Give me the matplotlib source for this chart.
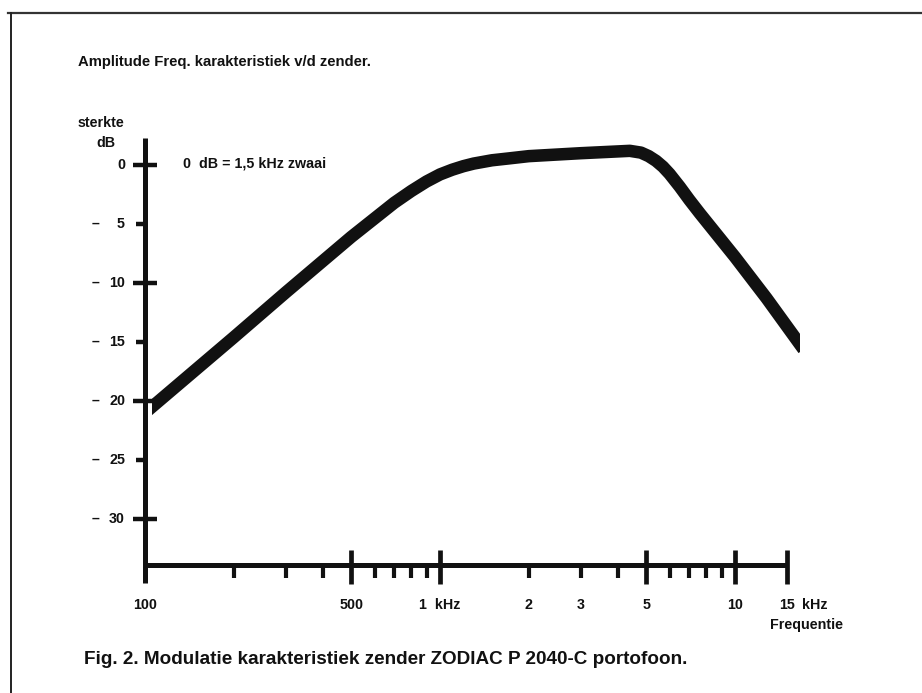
import math
import matplotlib
matplotlib.use("Agg")
import matplotlib.pyplot as plt
from matplotlib.patches import Rectangle

# Curve (frequency in Hz, level in dB)
freq_hz = [105.6, 200, 300, 500, 700, 800, 900, 1000, 1100, 1200, 1300, 1500, 1700, 2000, 3000,
           4000, 4400, 4800, 5100, 5400, 5700, 6000, 6500, 7000, 7600, 10000, 12800, 16600]
level_db = [-20.5, -14.6, -10.8, -6.1, -3.2, -2.2, -1.4, -0.8, -0.4, -0.1, 0.12, 0.4, 0.55, 0.75, 1.0,
            1.15, 1.2, 1.05, 0.75, 0.35, -0.15, -0.75, -1.85, -2.95, -4.1, -7.8, -11.3, -15.2]

# Axis ticks
y_major = [0, -10, -20, -30]
y_minor = [-5, -15, -25]
y_labels = {0: "0", -5: "5", -10: "10", -15: "15", -20: "20", -25: "25", -30: "30"}
x_major = [500, 1000, 5000, 10000, 15000]
x_minor = [200, 300, 400, 600, 700, 800, 900, 2000, 3000, 4000, 6000, 7000, 8000, 9000]
x_labels = {100: "100", 500: "500", 1000: "1  kHz", 2000: "2", 3000: "3",
            5000: "5", 10000: "10", 15000: "15"}

W, H = 922, 693
FONT = ["Liberation Sans", "DejaVu Sans"]
INK = "#111111"

fig = plt.figure(figsize=(W / 100, H / 100), dpi=100)
ax = fig.add_axes([0, 0, 1, 1])
ax.set_xscale("log")
# 295 px per decade, 100 Hz at x=145 ; 11.8 px per dB, 0 dB at y=165
ax.set_xlim(100 * 10 ** (-145 / 295), 100 * 10 ** ((W - 145) / 295))
ax.set_ylim(-(H - 165) / 11.8, 165 / 11.8)
ax.axis("off")


def px(x, y):
    return x / W, 1 - y / H


# page frame (top and left edge of the scan)
fig.add_artist(plt.Line2D([8 / W, 1], [1 - 13 / H] * 2, color="#333333", lw=1.6))
fig.add_artist(plt.Line2D([11 / W] * 2, [0, 1 - 13 / H], color="#222222", lw=1.4))

# axes lines
x_axis_db = -33.9
ax.plot([100, 100], [2.3, -35.4], color=INK, lw=3.6, solid_capstyle="butt")
ax.plot([100, 15000], [x_axis_db, x_axis_db], color=INK, lw=3.6, solid_capstyle="butt")

# y ticks
ax.plot([100] * len(y_major), y_major, ls="none", marker="_", ms=17, mew=3.2, color=INK)
left_tick = [(-1, 0), (0, 0)]
ax.plot([100] * len(y_minor), y_minor, ls="none", marker=left_tick, ms=13, mew=3.2, color=INK)

# x ticks
ax.plot(x_major, [x_axis_db - 0.2] * len(x_major), ls="none", marker="|", ms=24, mew=3.4, color=INK)
down_tick = [(0, 0), (0, -1)]
ax.plot(x_minor, [x_axis_db] * len(x_minor), ls="none", marker=down_tick, ms=18, mew=3.0, color=INK)

# curve
line, = ax.plot(freq_hz, level_db, color=INK, lw=9, solid_capstyle="projecting",
                solid_joinstyle="round")
clip = Rectangle((freq_hz[0], -60), freq_hz[-1] - freq_hz[0], 100, transform=ax.transData)
line.set_clip_path(clip)

# y tick labels
for val, lab in y_labels.items():
    yy = 165 - 11.8 * val
    fig.text(*px(125, yy), lab, ha="right", va="center", fontsize=10.3,
             family=FONT, weight="bold", color=INK)
    if val != 0:
        fig.text(*px(92, yy), "–", ha="left", va="center", fontsize=10.3,
                 family=FONT, weight="bold", color=INK)

# x tick labels
for val, lab in x_labels.items():
    xx = 145 + 295 * math.log10(val / 100)
    fig.text(*px(xx, 605), lab, ha="center", va="center", fontsize=10.3,
             family=FONT, weight="bold", color=INK)
fig.text(*px(802, 605), "kHz", ha="left", va="center", fontsize=10.3,
         family=FONT, weight="bold", color=INK)
fig.text(*px(843, 625), "Frequentie", ha="right", va="center", fontsize=10.3,
         family=FONT, weight="bold", color=INK)

# other text
fig.text(*px(78, 62), "Amplitude Freq. karakteristiek v/d zender.", ha="left", va="center",
         fontsize=10.7, family=FONT, weight="bold", color=INK)
fig.text(*px(78, 123), "sterkte", ha="left", va="center", fontsize=10.3,
         family=FONT, weight="bold", color=INK)
fig.text(*px(96, 143), "dB", ha="left", va="center", fontsize=10.3,
         family=FONT, weight="bold", color=INK)
fig.text(*px(183, 164), "0  dB = 1,5 kHz zwaai", ha="left", va="center", fontsize=10.3,
         family=FONT, weight="bold", color=INK)
fig.text(*px(84, 660), "Fig. 2. Modulatie karakteristiek zender ZODIAC P 2040-C portofoon.",
         ha="left", va="center", fontsize=13.6, family=FONT, weight="bold", color=INK)

fig.savefig("out.png", dpi=100)
